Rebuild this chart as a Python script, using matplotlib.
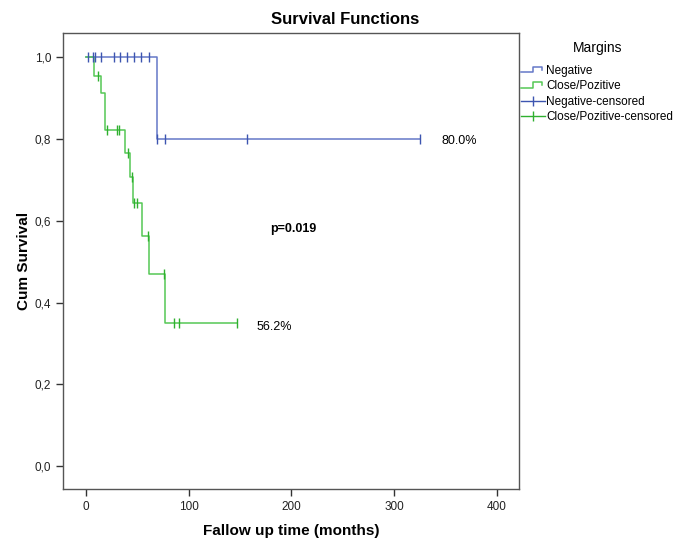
import matplotlib
matplotlib.use("Agg")
import matplotlib.pyplot as plt
from matplotlib.lines import Line2D
from matplotlib.legend_handler import HandlerBase

plt.rcParams['font.family'] = ['Liberation Sans', 'DejaVu Sans']

# Negative margins
neg_t = [0, 69, 325]
neg_s = [1.0, 0.8, 0.8]
neg_cens_t = [2, 7, 8.5, 15, 27, 33, 40, 47, 54, 61, 69, 77, 157, 325]
neg_cens_s = [1.0] * 10 + [0.8] * 4

# Close/Pozitive margins
pos_t = [0, 8, 14.6, 18.5, 38, 43.2, 45.8, 54.5, 61.3, 76.6, 147]
pos_s = [1.0, 0.955, 0.913, 0.821, 0.766, 0.706, 0.644, 0.562, 0.469, 0.351, 0.351]
pos_cens_t = [11.5, 20, 30, 32.5, 41, 44.5, 46.5, 49.5, 60.7, 76, 85.7, 90.6, 146.7]
pos_cens_s = [0.955, 0.821, 0.821, 0.821, 0.766, 0.706, 0.644, 0.644, 0.562,
              0.469, 0.351, 0.351, 0.351]

yticks = [0.0, 0.2, 0.4, 0.6, 0.8, 1.0]
ytick_labels = ["0,0", "0,2", "0,4", "0,6", "0,8", "1,0"]
xticks = [0, 100, 200, 300, 400]

blue = '#6478c8'
blue_dark = '#3d55b0'
green = '#55c855'
green_dark = '#2fb02f'


class StepHandler(HandlerBase):
    def create_artists(self, legend, orig_handle, xdescent, ydescent,
                       width, height, fontsize, trans):
        xs = [-xdescent, -xdescent + width * 0.5, -xdescent + width * 0.5,
              -xdescent + width * 0.9, -xdescent + width * 0.9]
        ys = [height * 0.15, height * 0.15, height * 0.85, height * 0.85, height * 0.5]
        ln = Line2D(xs, ys, color=orig_handle.get_color(), lw=1.1, transform=trans)
        return [ln]


fig = plt.figure(figsize=(6.91, 5.39), dpi=100)
ax = fig.add_axes([63 / 691, 50 / 539, (519 - 63) / 691, (489 - 33) / 539])

l1, = ax.plot(neg_t, neg_s, drawstyle='steps-post', color=blue, lw=1.1)
l2, = ax.plot(pos_t, pos_s, drawstyle='steps-post', color=green, lw=1.1)
ax.plot(neg_cens_t, neg_cens_s, ls='none', marker='|', ms=7, mew=1.0, color=blue_dark)
ax.plot(pos_cens_t, pos_cens_s, ls='none', marker='|', ms=7, mew=1.0, color=green_dark)

ax.set_xlim(-22.4, 421.6)
ax.set_ylim(-0.056, 1.059)
ax.set_xticks(xticks)
ax.set_yticks(yticks)
ax.set_yticklabels(ytick_labels)
ax.tick_params(labelsize=8.5, length=5, width=1, colors='#333333', labelcolor='#222222')
for sp in ax.spines.values():
    sp.set_color('#555555')
    sp.set_linewidth(1.0)

ax.set_xlabel("Fallow up time (months)", fontsize=11, fontweight='bold', labelpad=8)
ax.set_ylabel("Cum Survival", fontsize=11, fontweight='bold', labelpad=3)
fig.text(0.5, 1 - 19 / 539, "Survival Functions", ha='center', va='center',
         fontsize=12, fontweight='bold')

ax.text(346, 0.795, "80.0%", fontsize=9, va='center')
ax.text(166, 0.34, "56.2%", fontsize=9, va='center')
ax.text(179, 0.58, "p=0.019", fontsize=9, fontweight='bold', va='center')

h3 = Line2D([], [], color=blue_dark, lw=1.0, marker='|', ms=7)
h4 = Line2D([], [], color=green_dark, lw=1.0, marker='|', ms=7)
leg = ax.legend([l1, l2, h3, h4],
                ["Negative", "Close/Pozitive", "Negative-censored", "Close/Pozitive-censored"],
                handler_map={l1: StepHandler(), l2: StepHandler()},
                title="Margins", title_fontsize=10, fontsize=8.5,
                loc='upper left', bbox_to_anchor=(521 / 691, 1 - 41 / 539),
                bbox_transform=fig.transFigure, frameon=False,
                handlelength=2.0, handletextpad=0.15, labelspacing=0.3,
                borderaxespad=0, borderpad=0)
leg._legend_box.sep = 7

fig.savefig("out.png", dpi=100)
